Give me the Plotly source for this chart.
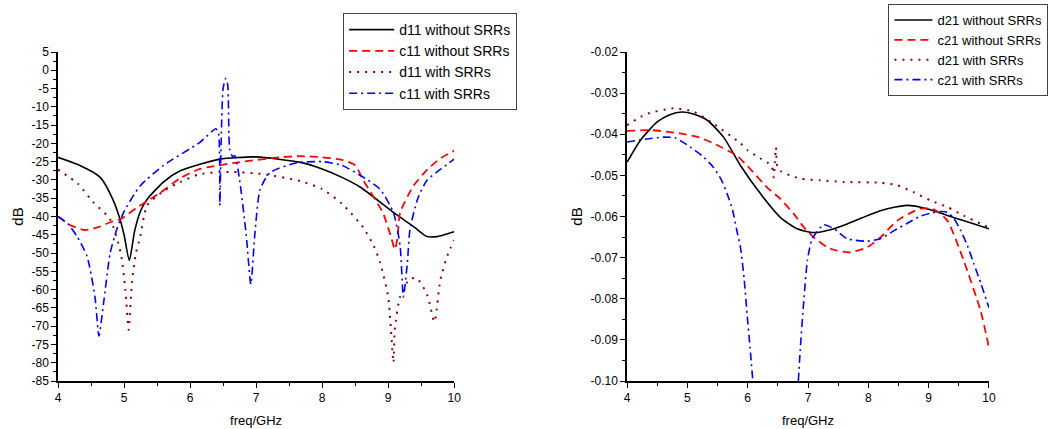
import plotly.graph_objects as go
from plotly.subplots import make_subplots

# ---- left panel: reflection (dB) ----
d11_wo_x = [4, 4.3, 4.64, 4.83, 4.94, 5.0, 5.08, 5.16, 5.25, 5.35, 5.6, 5.85, 6.15, 6.45, 7.0, 7.67, 8.0, 8.3, 8.58, 9.08, 9.4, 9.59, 9.74, 9.85, 10]
d11_wo_y = [-23.8, -25.8, -29.3, -35.3, -40.8, -45, -52, -44, -38.5, -35.3, -30.5, -27.5, -25.7, -24.3, -23.7, -25.2, -27, -29.3, -32, -38.9, -43, -45.5, -45.5, -45, -44.2]

c11_wo_x = [4, 4.2, 4.41, 4.6, 4.8, 4.94, 5.2, 5.55, 5.85, 6.15, 6.76, 7.36, 7.67, 8.0, 8.3, 8.5, 8.62, 8.92, 9.05, 9.1, 9.14, 9.18, 9.38, 9.6, 9.8, 10]
c11_wo_y = [-40, -42.5, -43.7, -43, -41.5, -40.8, -37.5, -33.5, -29.5, -27, -25.1, -23.8, -23.5, -23.8, -24.5, -26, -30, -39, -46, -49, -46, -39, -31.7, -27, -24, -22]

d11_w_x = [4, 4.3, 4.53, 4.79, 4.95, 5.02, 5.07, 5.12, 5.18, 5.24, 5.35, 5.6, 5.85, 6.15, 6.6, 7.1, 7.67, 8.0, 8.3, 8.62, 8.78, 8.88, 9.0, 9.08, 9.1, 9.18, 9.33, 9.44, 9.59, 9.7, 9.79, 9.91, 10]
d11_w_y = [-27.2, -31, -36, -40.8, -50, -60, -71, -58, -50, -46, -37, -33, -30.6, -28.4, -27.8, -28.4, -30.3, -32.5, -36.5, -43, -48, -52.7, -62, -80, -71, -62, -57, -57, -61.4, -68.8, -57.3, -50, -46.5]

c11_w_x = [4, 4.15, 4.29, 4.44, 4.56, 4.62, 4.69, 4.79, 4.89, 4.99, 5.24, 5.6, 6.15, 6.39, 6.43, 6.45, 6.47, 6.5, 6.54, 6.57, 6.6, 6.64, 6.68, 6.75, 6.85, 6.92, 6.98, 7.06, 7.21, 7.62, 8.0, 8.3, 8.67, 8.88, 9.08, 9.18, 9.23, 9.29, 9.33, 9.45, 9.59, 9.8, 10]
c11_w_y = [-40, -42, -45.5, -50.9, -62, -72.7, -63.7, -50, -43.5, -39, -31.7, -26, -19.7, -16, -17, -37, -20, -5, -2.2, -4, -21.6, -23.5, -23.4, -30, -45, -58.5, -45, -32.6, -28, -25.3, -25, -26, -29.8, -32.6, -39, -48, -62, -52.7, -43.5, -35, -30, -27, -24.3]

# ---- right panel: transmission (dB) ----
d21_wo_x = [4, 4.22, 4.5, 4.7, 4.91, 5.1, 5.33, 5.6, 5.88, 6.26, 6.54, 6.82, 7.09, 7.37, 7.65, 7.9, 8.2, 8.45, 8.64, 8.97, 9.3, 9.6, 10]
d21_wo_y = [-0.0468, -0.0415, -0.0370, -0.0353, -0.0346, -0.0351, -0.0366, -0.0407, -0.0476, -0.0554, -0.0602, -0.0630, -0.0639, -0.0632, -0.0618, -0.0603, -0.0586, -0.0577, -0.0573, -0.0581, -0.0597, -0.0611, -0.0630]

c21_wo_x = [4, 4.4, 4.88, 5.2, 5.43, 5.82, 6.0, 6.32, 6.54, 6.76, 6.93, 7.09, 7.32, 7.48, 7.7, 7.98, 8.2, 8.48, 8.86, 9.09, 9.31, 9.58, 9.86, 10]
c21_wo_y = [-0.0392, -0.0390, -0.0398, -0.0408, -0.0422, -0.0452, -0.0478, -0.0529, -0.0557, -0.0593, -0.0626, -0.0650, -0.0675, -0.0683, -0.0687, -0.0675, -0.0651, -0.0610, -0.0581, -0.0583, -0.0610, -0.0707, -0.0829, -0.0919]

d21_w_x = [4, 4.3, 4.77, 5.1, 5.43, 5.88, 6.0, 6.2, 6.32, 6.4, 6.43, 6.45, 6.47, 6.49, 6.55, 6.7, 6.87, 7.2, 7.6, 8.2, 8.48, 8.75, 9.03, 9.31, 9.58, 10]
d21_w_y = [-0.0378, -0.0352, -0.0337, -0.0345, -0.0374, -0.0422, -0.0439, -0.0458, -0.0468, -0.0478, -0.0505, -0.0470, -0.0432, -0.0478, -0.0490, -0.0500, -0.0508, -0.0512, -0.0516, -0.0518, -0.0524, -0.0541, -0.0561, -0.0577, -0.0598, -0.0627]

c21_w_x = [4, 4.3, 4.6, 4.8, 5.05, 5.25, 5.43, 5.56, 5.66, 5.75, 5.82, 5.88, 5.94, 5.99, 6.04, 6.085, None, 6.84, 6.87, 6.93, 6.99, 7.07, 7.26, 7.43, 7.65, 7.98, 8.2, 8.42, 8.64, 8.85, 9.03, 9.2, 9.31, 9.42, 9.53, 9.64, 9.75, 9.87, 10]
c21_w_y = [-0.0419, -0.0412, -0.0407, -0.0409, -0.0431, -0.0453, -0.0480, -0.0510, -0.0545, -0.0585, -0.0634, -0.0675, -0.0750, -0.0837, -0.0920, -0.1000, None, -0.1000, -0.0927, -0.0805, -0.0707, -0.0654, -0.0620, -0.0630, -0.0654, -0.0660, -0.0654, -0.0635, -0.0617, -0.0600, -0.0592, -0.0588, -0.0590, -0.0605, -0.0634, -0.0670, -0.0715, -0.0765, -0.0822]

# tick labels (plain hyphen minus, as in the original)
x_ticks = [4, 5, 6, 7, 8, 9, 10]
left_y_ticks = list(range(5, -90, -5))
left_y_text = [str(v) for v in left_y_ticks]
right_y_ticks = [-0.02, -0.03, -0.04, -0.05, -0.06, -0.07, -0.08, -0.09, -0.10]
right_y_text = ["-0.02", "-0.03", "-0.04", "-0.05", "-0.06", "-0.07", "-0.08", "-0.09", "-0.10"]

FONT = "Arial, Liberation Sans, sans-serif"
BLACK = "#000000"
RED = "#FF0000"
MAROON = "#8B0000"
BLUE = "#0000FF"

fig = make_subplots(rows=1, cols=2)

styles = [
	(BLACK, "solid", 1.6),
	(RED, "8px,5px", 1.8),
	(MAROON, "2px,6px", 2),
	(BLUE, "8px,4px,2px,4px", 1.6),
]

left = [
	(d11_wo_x, d11_wo_y, "d11 without SRRs"),
	(c11_wo_x, c11_wo_y, "c11 without SRRs"),
	(d11_w_x, d11_w_y, "d11 with SRRs"),
	(c11_w_x, c11_w_y, "c11 with SRRs"),
]
right = [
	(d21_wo_x, d21_wo_y, "d21 without SRRs"),
	(c21_wo_x, c21_wo_y, "c21 without SRRs"),
	(d21_w_x, d21_w_y, "d21 with SRRs"),
	(c21_w_x, c21_w_y, "c21 with SRRs"),
]

for (x, y, name), (col, dash, w) in zip(left, styles):
	fig.add_trace(go.Scatter(
		x=x, y=y, name=name, mode="lines",
		line=dict(color=col, dash=dash, width=w, shape="spline", smoothing=0.6),
		legend="legend",
		), row=1, col=1)

for (x, y, name), (col, dash, w) in zip(right, styles):
	fig.add_trace(go.Scatter(
		x=x, y=y, name=name, mode="lines", connectgaps=False,
		line=dict(color=col, dash=dash, width=w, shape="spline", smoothing=0.6),
		legend="legend2",
		), row=1, col=2)

axis_common = dict(
	showline=True, linecolor="black", linewidth=1.5,
	ticks="outside", ticklen=5, tickwidth=1.2, tickcolor="black",
	showgrid=False, zeroline=False, mirror=False, automargin=False,
	tickfont=dict(family=FONT, size=12, color="black"),
	)

fig.update_xaxes(axis_common)
fig.update_yaxes(axis_common)

leg_common = dict(xanchor="left", yanchor="top",
	bgcolor="white", bordercolor="#444444", borderwidth=1, tracegroupgap=0)

fig.update_layout(
	width=1048, height=429,
	margin=dict(l=58, r=59, t=52, b=48, autoexpand=False),
	paper_bgcolor="white", plot_bgcolor="white",
	font=dict(family=FONT, color="black"),
	xaxis=dict(domain=[0, 0.4256], range=[4, 10], tickvals=x_ticks,
		minor=dict(ticks="outside", ticklen=3, tick0=4, dtick=0.5, tickcolor="black"),
		title=dict(text="freq/GHz", font=dict(size=13), standoff=12)),
	yaxis=dict(domain=[0, 1], range=[-85, 5], tickvals=left_y_ticks, ticktext=left_y_text,
		minor=dict(ticks="outside", ticklen=3, tick0=0, dtick=2.5, tickcolor="black"),
		title=dict(text="dB", font=dict(size=15), standoff=4)),
	xaxis2=dict(domain=[0.6112, 1], range=[4, 10], tickvals=x_ticks,
		minor=dict(ticks="outside", ticklen=3, tick0=4, dtick=0.5, tickcolor="black"),
		title=dict(text="freq/GHz", font=dict(size=13), standoff=12)),
	yaxis2=dict(domain=[0, 1], range=[-0.10, -0.02], tickvals=right_y_ticks, ticktext=right_y_text,
		minor=dict(ticks="outside", ticklen=3, tick0=0, dtick=0.005, tickcolor="black"),
		title=dict(text="dB", font=dict(size=15), standoff=4)),
	legend=dict(leg_common, x=0.3063, y=1.1185, itemwidth=45,
		font=dict(family=FONT, size=14, color="black")),
	legend2=dict(leg_common, x=0.892, y=1.1459, itemwidth=38,
		font=dict(family=FONT, size=13, color="black")),
	showlegend=True,
	)

# page body margin off so the 1048x429 figure sits at the window's corner
fig.write_html("out.html", config={"displayModeBar": False},
	post_script="document.body.style.margin='0';")
